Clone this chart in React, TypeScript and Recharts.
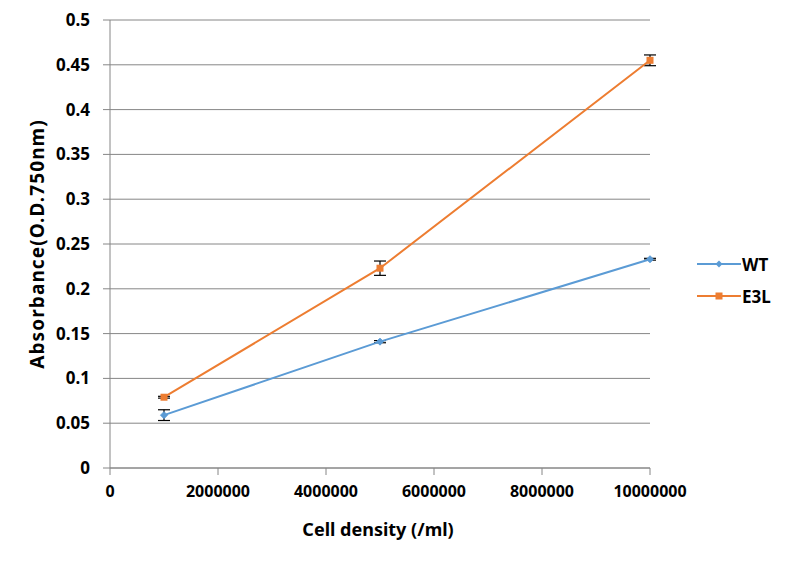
import React from "react";
import {
  LineChart,
  Line,
  CartesianGrid,
  XAxis,
  YAxis,
  ErrorBar,
  Label
} from "recharts";

const density = [1000000, 5000000, 10000000];
const wtValues = [0.059, 0.141, 0.233];
const wtErrors = [0.006, 0.0012, 0.001];
const e3lValues = [0.079, 0.223, 0.455];
const e3lErrors = [0.001, 0.008, 0.006];

const xTicks = [0, 2000000, 4000000, 6000000, 8000000, 10000000];
const yTicks = [0, 0.05, 0.1, 0.15, 0.2, 0.25, 0.3, 0.35, 0.4, 0.45, 0.5];

const WT_COLOR = "#5B9BD5";
const E3L_COLOR = "#ED7D31";
const FONT = "'Noto Sans', 'DejaVu Sans', sans-serif";

const data = density.map((d, i) => ({
  density: d,
  wt: wtValues[i],
  wtErr: wtErrors[i],
  e3l: e3lValues[i],
  e3lErr: e3lErrors[i]
}));

// eslint-disable-next-line @typescript-eslint/no-explicit-any
const DiamondDot = (props: any) => {
  const { cx, cy } = props;
  if (cx == null || cy == null) return null;
  return (
    <path
      d={`M${cx},${cy - 3.5} L${cx + 3.5},${cy} L${cx},${cy + 3.5} L${cx - 3.5},${cy} Z`}
      fill={WT_COLOR}
      stroke={WT_COLOR}
    />
  );
};

// eslint-disable-next-line @typescript-eslint/no-explicit-any
const SquareDot = (props: any) => {
  const { cx, cy } = props;
  if (cx == null || cy == null) return null;
  return <rect x={cx - 3.5} y={cy - 3.5} width={7} height={7} fill={E3L_COLOR} />;
};

const legendItems = [
  { name: "WT", color: WT_COLOR, square: false },
  { name: "E3L", color: E3L_COLOR, square: true }
];

// legend sits outside the plot, to the right, like the original
const SideLegend = () => (
  <div
    style={{
      position: "absolute",
      left: 697,
      top: 248,
      fontFamily: FONT,
      fontWeight: "bold",
      fontSize: 17,
      color: "#000"
    }}
  >
    {legendItems.map((it) => (
      <div key={it.name} style={{ display: "flex", alignItems: "center", height: 32 }}>
        <svg width={44} height={12}>
          <line x1={0} y1={6} x2={44} y2={6} stroke={it.color} strokeWidth={2} />
          {it.square ? (
            <rect x={18.5} y={2.5} width={7} height={7} fill={it.color} />
          ) : (
            <path d="M22,2.5 L25.5,6 L22,9.5 L18.5,6 Z" fill={it.color} />
          )}
        </svg>
        <span style={{ marginLeft: 1 }}>{it.name}</span>
      </div>
    ))}
  </div>
);

const tickStyle = { fontFamily: FONT, fontWeight: "bold" as const, fontSize: 16, fill: "#000" };

export default function App() {
  return (
    <div style={{ position: "absolute", left: 0, top: 0, width: 787, height: 561, background: "#fff" }}>
      <LineChart
        width={787}
        height={561}
        data={data}
        margin={{ top: 20, right: 137, bottom: 0, left: 0 }}
      >
        <CartesianGrid vertical={false} stroke="#868686" strokeWidth={1} />
        <XAxis
          dataKey="density"
          type="number"
          domain={[0, 10000000]}
          ticks={xTicks}
          interval={0}
          height={93}
          tickSize={7}
          tickMargin={11}
          stroke="#868686"
          tick={tickStyle}
          tickFormatter={(v: number) => String(v)}
        >
          <Label
            value="Cell density (/ml)"
            position="insideBottom"
            offset={25}
            dx={-2}
            style={{ ...tickStyle, fontSize: 18 }}
          />
        </XAxis>
        <YAxis
          type="number"
          domain={[0, 0.5]}
          ticks={yTicks}
          interval={0}
          width={110}
          tickSize={7}
          tickMargin={13}
          stroke="#868686"
          tick={{ ...tickStyle, fontSize: 17 }}
          tickFormatter={(v: number) => String(v)}
        >
          <Label
            value="Absorbance(O.D.750nm)"
            angle={-90}
            position="insideLeft"
            offset={37}
            style={{ ...tickStyle, fontSize: 19, letterSpacing: 1.1, textAnchor: "middle" }}
          />
        </YAxis>
        <Line
          dataKey="wt"
          name="WT"
          stroke={WT_COLOR}
          strokeWidth={2}
          dot={<DiamondDot />}
          activeDot={false}
          isAnimationActive={false}
        >
          <ErrorBar dataKey="wtErr" direction="y" width={6} stroke="#000" strokeWidth={1.2} />
        </Line>
        <Line
          dataKey="e3l"
          name="E3L"
          stroke={E3L_COLOR}
          strokeWidth={2}
          dot={<SquareDot />}
          activeDot={false}
          isAnimationActive={false}
        >
          <ErrorBar dataKey="e3lErr" direction="y" width={6} stroke="#000" strokeWidth={1.2} />
        </Line>
      </LineChart>
      <SideLegend />
    </div>
  );
}
